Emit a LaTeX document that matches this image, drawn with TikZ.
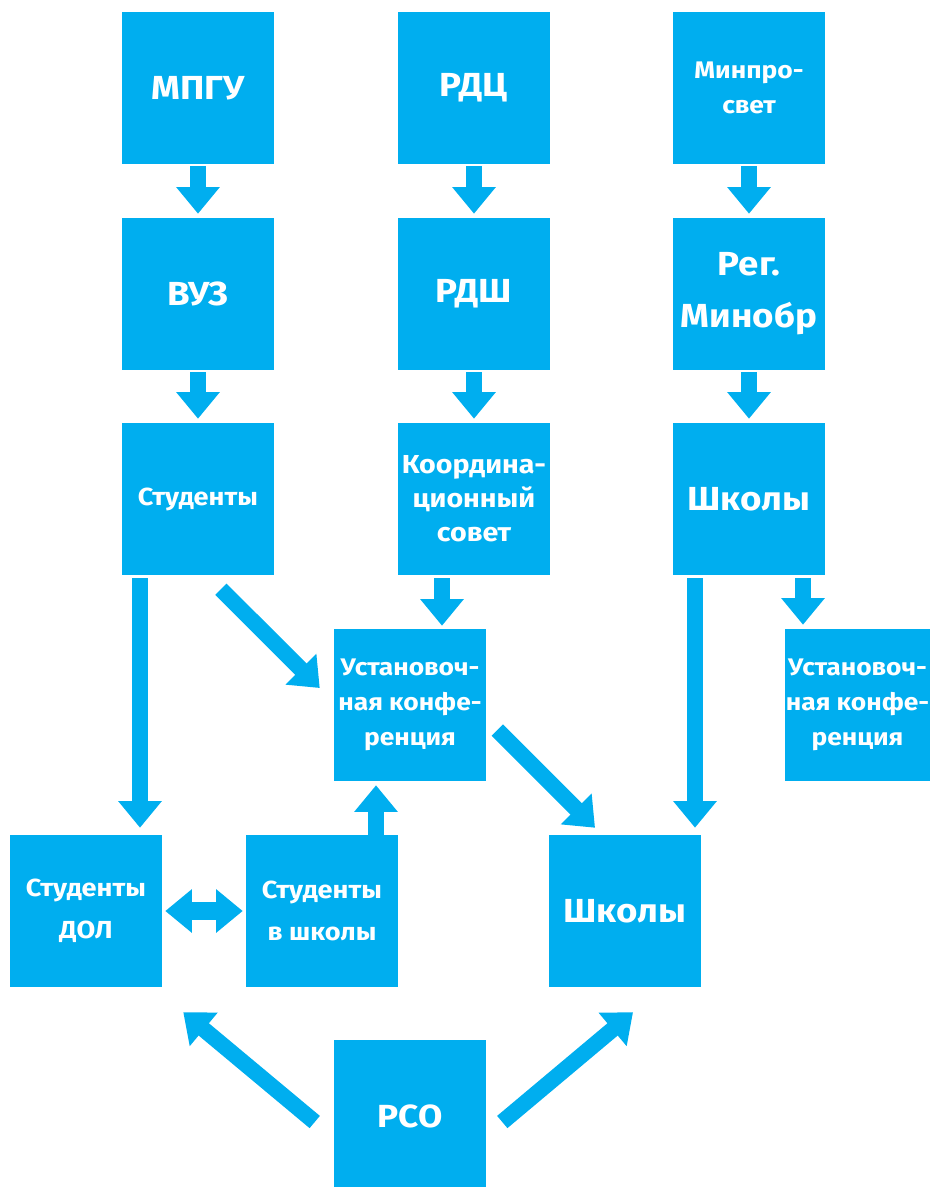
\documentclass[tikz,border=0pt]{standalone}
\usepackage{fontspec}
\setmainfont{Fira Sans}[FakeStretch=1.1]
\usepackage{xcolor}
\usetikzlibrary{arrows.meta}

\definecolor{boxblue}{HTML}{00AEEF}

\begin{document}
\begin{tikzpicture}[x=0.75pt,y=-0.75pt,
    box/.style={fill=boxblue,text=white,minimum size=114pt,inner sep=0pt,align=center,font=\bfseries},
    huge/.style={font=\bfseries\fontsize{25}{39}\selectfont},
    big/.style={font=\bfseries\fontsize{24}{39}\selectfont},
    small/.style={font=\bfseries\fontsize{18}{26}\selectfont},
    tiny/.style={font=\bfseries\fontsize{18.5}{31.5}\selectfont},
    blk/.style={-{Triangle[width=31.5pt,length=20pt]},line width=12pt,draw=boxblue},
    dblk/.style={{Triangle[width=31.5pt,length=20pt]}-{Triangle[width=31.5pt,length=20pt]},line width=13pt,draw=boxblue}]

    \useasboundingbox (0,0) rectangle (930,1187);

    % top rows
    \node[box,huge]  (mpgu)  at (198,88)  {МПГУ};
    \node[box,huge]  (rdc)   at (474,88)  {РДЦ};
    \node[box,small] (minpr) at (749,88)  {Минпро-\\свет};
    \node[box,huge]  (vuz)   at (198,294) {ВУЗ};
    \node[box,huge]  (rdsh)  at (474,294) {РДШ};
    \node[box,huge]  (regm)  at (749,294) {Рег.\\Минобр};
    \node[box,tiny]  (stud)  at (198,499) {Студенты};
    \node[box,small,font=\bfseries\fontsize{19.5}{25.5}\selectfont] (koord) at (474,499) {Координа-\\ционный\\совет};
    \node[box,huge]  (shk)   at (749,499) {Школы};

    % conferences
    \node[box,small] (ust)   at (410,705) {Установоч-\\ная конфе-\\ренция};
    \node[box,small,minimum width=108.75pt] (ust2) at (857.5,705) {Установоч-\\ная конфе-\\ренция};

    % bottom rows
    \node[box,tiny]  (dol)   at (86,911)  {Студенты\\ДОЛ};
    \node[box,tiny]  (stud2) at (322,911) {Студенты\\в школы};
    \node[box,huge]  (shk2)  at (625,911) {Школы};
    \node[box,big]   (rso)   at (410,1116) {РСО};

    \draw[blk,shorten <=1.5pt,shorten >=3pt] (mpgu) -- (vuz);
    \draw[blk,shorten <=1.5pt,shorten >=3pt] (rdc) -- (rdsh);
    \draw[blk,shorten <=1.5pt,shorten >=3pt] (minpr) -- (regm);
    \draw[blk,shorten <=1.5pt,shorten >=3pt] (vuz) -- (stud);
    \draw[blk,shorten <=1.5pt,shorten >=3pt] (rdsh) -- (koord);
    \draw[blk,shorten <=1.5pt,shorten >=3pt] (regm) -- (shk);

    \draw[blk,shorten <=2.25pt,shorten >=5.25pt] ([xshift=-43.5pt]stud.south) -- ([xshift=-43.5pt]stud.south |- dol.north);
    \draw[blk] ([xshift=-40pt,yshift=-10.5pt]stud.south east) -- ([xshift=-10.5pt,yshift=12.75pt]ust.west);
    \draw[blk,shorten <=2.25pt,shorten >=2.25pt] ([xshift=-24pt]koord.south) -- ([xshift=-24pt]koord.south |- ust.north);
    \draw[blk,shorten <=2.25pt,shorten >=5.25pt] ([xshift=-40.5pt]shk.south) -- ([xshift=-40.5pt]shk.south |- shk2.north);
    \draw[blk,shorten <=2.25pt,shorten >=3pt] ([xshift=40.5pt]shk.south) -- ([xshift=40.5pt]shk.south |- ust2.north);
    \draw[blk] ([xshift=8.25pt,yshift=-18.75pt]ust.east) -- ([xshift=-22.5pt,yshift=5.25pt]shk2.north);

    \draw[dblk,shorten <=2.25pt,shorten >=2.25pt] (dol) -- (stud2);
    \draw[blk,shorten <=-1.5pt,shorten >=3pt] ([xshift=40.5pt]stud2.north) -- ([xshift=40.5pt]stud2.north |- ust.south);

    \draw[blk] ([xshift=-14.25pt,yshift=-4.5pt]rso.west) -- ([xshift=15.75pt,yshift=-18.75pt]dol.south east);
    \draw[blk] ([xshift=12pt,yshift=-4.5pt]rso.east) -- ([xshift=6pt,yshift=-18.75pt]shk2.south);
\end{tikzpicture}
\end{document}
